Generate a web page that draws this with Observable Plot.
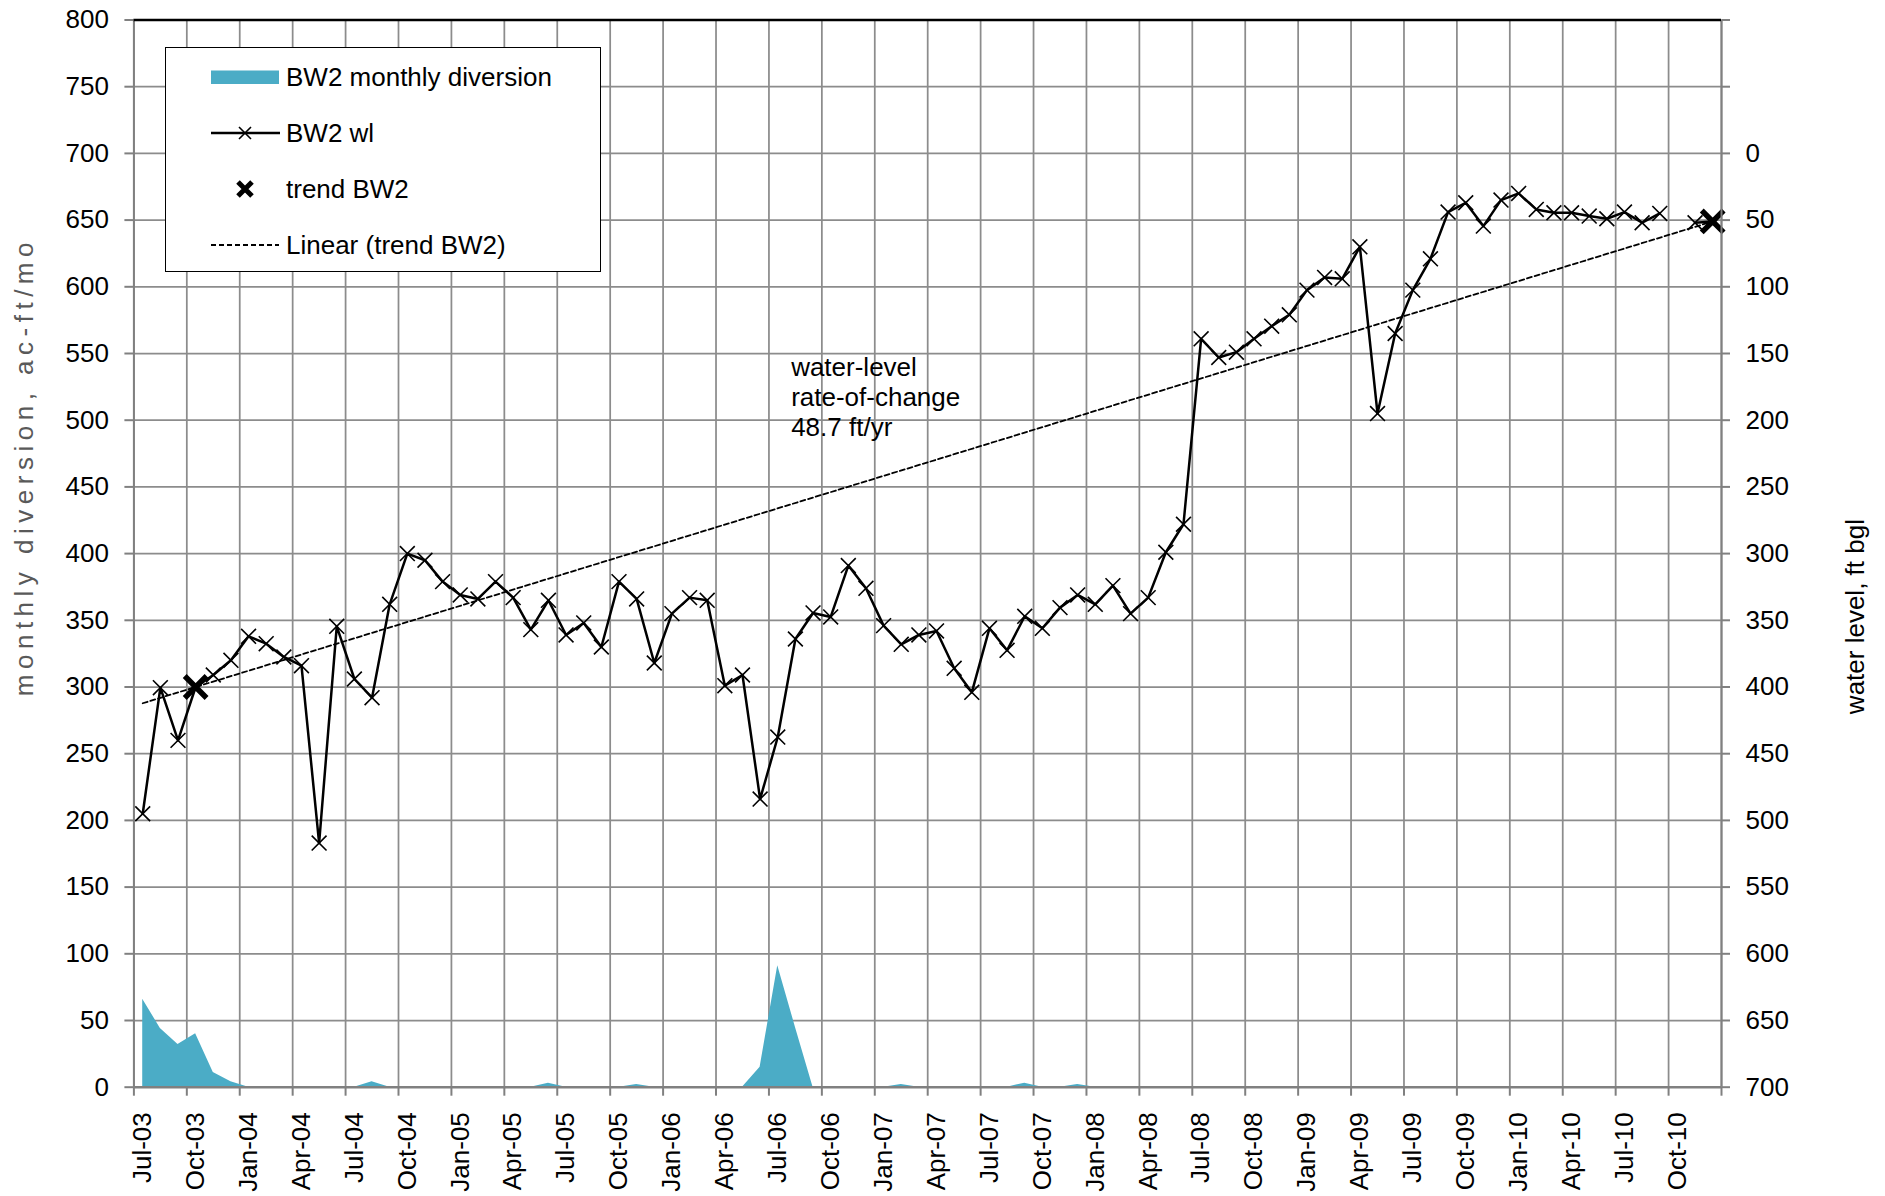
<!DOCTYPE html>
<html>
<head>
<meta charset="utf-8">
<script src="https://cdn.jsdelivr.net/npm/d3@7"></script>
<script src="https://cdn.jsdelivr.net/npm/@observablehq/plot@0.6"></script>
<style>
  body { margin: 0; background: #fff; }
  #wrap { position: relative; width: 1885px; height: 1196px; font-family: "Liberation Sans", Arial, sans-serif; }
  #legend { position: absolute; left: 165px; top: 47px; width: 434px; height: 223px; border: 1.5px solid #000; background: #fff; }
  .row { position: absolute; left: 0; height: 30px; width: 430px; font-size: 26px; line-height: 30px; color: #000; }
  .row svg { position: absolute; left: 45px; top: 0; }
  .row span { position: absolute; left: 120px; top: 0; white-space: nowrap; }
</style>
</head>
<body>
<div id="wrap"></div>
<script>
// ---------- data ----------
const firstMonth = new Date(Date.UTC(2003, 6, 1));   // Jul-03
const endMonth = new Date(Date.UTC(2011, 0, 1));     // Jan-11 (axis end)
const xTickLabels = ["Jul-03","Oct-03","Jan-04","Apr-04","Jul-04","Oct-04","Jan-05","Apr-05","Jul-05","Oct-05",
  "Jan-06","Apr-06","Jul-06","Oct-06","Jan-07","Apr-07","Jul-07","Oct-07","Jan-08","Apr-08",
  "Jul-08","Oct-08","Jan-09","Apr-09","Jul-09","Oct-09","Jan-10","Apr-10","Jul-10","Oct-10"];
const leftTicks = [0,50,100,150,200,250,300,350,400,450,500,550,600,650,700,750,800];

// BW2 water level, ft below ground level (right axis), monthly from Jul-03
const wlFtBgl = [
  495, 400.5, 440, 400, 391, 380,            // Jul-03 .. Dec-03
  362, 367.5, 377.5, 384, 517, 354.5, 394, 408, 338, 300, 305, 321,   // 2004
  331, 334, 321, 333, 357, 335, 361, 352, 370, 321, 334, 382,         // 2005
  345, 333, 335, 399, 391, 484, 437.5, 364, 344.5, 347.5, 309, 326,   // 2006
  354, 368, 361, 358, 386, 404, 356, 372.5, 347, 356, 340.5, 331,     // 2007
  338, 324, 345, 333, 299, 278, 139, 153, 149, 139, 129.5, 121,       // 2008
  102.5, 93, 94, 70, 195, 135, 102.5, 79, 44, 37, 54.5, 35,           // 2009
  30, 42, 44.5, 44.5, 47, 49, 44, 52, 45, null, 52, 51                // 2010
];
// BW2 monthly diversion, ac-ft/mo (left axis), monthly from Jul-03
const diversion = [
  66, 44, 32, 40, 11, 4,
  0, 0, 0, 0, 0, 0, 0, 4, 0, 0, 0, 0,
  0, 0, 0, 0, 0, 3, 0, 0, 0, 0, 2, 0,
  0, 0, 0, 0, 0, 15, 91, 45, 0, 0, 0, 0,
  0, 2, 0, 0, 0, 0, 0, 0, 3, 0, 0, 2,
  0, 0, 0, 0, 0, 0, 0, 0, 0, 0, 0, 0,
  0, 0, 0, 0, 0, 0, 0, 0, 0, 0, 0, 0,
  0, 0, 0, 0, 0, 0, 0, 0, 0, 0, 0, 0
];
// trend BW2 points (month, ft bgl)
const trendMonths = ["2003-10", "2010-12"];
const trendFtBgl = [400, 51];
const annotationText = "water-level\nrate-of-change\n48.7 ft/yr";
const annotationAt = {month: "2006-08", day: 8, value: 518};
const leftTitle = "monthly diversion, ac-ft/mo";
const rightTitle = "water level, ft bgl";

// ---------- derived ----------
const months = d3.utcMonth.range(firstMonth, endMonth);          // 90 months
const nMonths = months.length;
const monthIdx = s => { const [y, m] = s.split("-").map(Number); return (y - 2003) * 12 + (m - 7); };
const wlRows = months.map((m, i) => ({i, v: wlFtBgl[i]}));
const divRows = months.map((m, i) => ({i, v: diversion[i]}));
const trendRows = trendMonths.map((s, k) => ({i: monthIdx(s), v: trendFtBgl[k]}));
// Linear trend (least squares through trend points) in left-axis units, drawn from first wl month to last trend month
const tx = trendRows.map(d => d.i + 0.5), ty = trendRows.map(d => 700 - d.v);
const mx = d3.mean(tx), my = d3.mean(ty);
const slope = d3.sum(tx, (x, k) => (x - mx) * (ty[k] - my)) / d3.sum(tx, x => (x - mx) ** 2);
const trendFit = [0.5, d3.max(tx)].map(x => ({x, y: my + slope * (x - mx)}));
const gridIdx = d3.range(0, nMonths + 1, 3);
const labelIdx = xTickLabels.map((l, k) => k * 3 + 0.5);

const gridColor = "#8c8c8c", axisColor = "#808080";
const X = d => d.i + 0.5;
const Ywl = d => d.v == null ? NaN : 700 - d.v;

const chart = Plot.plot({
  width: 1885, height: 1196,
  marginTop: 19.5, marginBottom: 109.3, marginLeft: 133.4, marginRight: 164,
  x: {type: "linear", domain: [0, nMonths], axis: null},
  y: {domain: [0, 800], axis: null},
  style: {fontFamily: "'Liberation Sans', Arial, sans-serif", fontSize: "26px", color: "black", background: "white", overflow: "visible"},
  marks: [
    Plot.ruleY(leftTicks, {stroke: gridColor, strokeWidth: 1.75}),
    Plot.ruleX(gridIdx, {stroke: gridColor, strokeWidth: 1.75}),
    Plot.areaY(divRows, {x: X, y: "v", fill: "#4bacc6"}),
    Plot.line(trendFit, {x: "x", y: "y", stroke: "black", strokeWidth: 1.8, strokeDasharray: "5,3"}),
    Plot.line(wlRows, {x: X, y: Ywl, stroke: "black", strokeWidth: 2.5}),
    Plot.dot(wlRows.filter(d => d.v != null), {x: X, y: Ywl, symbol: "times", r: 6.8, stroke: "black", strokeWidth: 1.6}),
    Plot.dot(trendRows, {x: X, y: Ywl, symbol: "times", r: 10, stroke: "black", strokeWidth: 5.5}),
    Plot.ruleX([0], {stroke: axisColor, strokeWidth: 2}),
    Plot.ruleX([nMonths], {stroke: axisColor, strokeWidth: 2}),
    Plot.ruleY([0], {stroke: axisColor, strokeWidth: 2.5}),
    Plot.ruleY([800], {stroke: "black", strokeWidth: 2.5}),
    Plot.axisY({anchor: "left", ticks: leftTicks, tickSize: 9, tickPadding: 16, stroke: axisColor, strokeWidth: 2, fill: "black", fontSize: 26, label: null}),
    Plot.axisY({anchor: "right", ticks: leftTicks, tickSize: 8, tickPadding: 16, stroke: axisColor, strokeWidth: 2, fill: "black", fontSize: 26, label: null,
      tickFormat: d => d <= 700 ? String(700 - d) : ""}),
    Plot.axisX({anchor: "bottom", ticks: gridIdx, tickSize: 9, stroke: axisColor, strokeWidth: 2, tickFormat: () => "", label: null}),
    Plot.axisX({anchor: "bottom", ticks: labelIdx, tickSize: 0, tickPadding: 25, tickRotate: -90, fill: "black", fontSize: 26, label: null,
      tickFormat: d => xTickLabels[Math.floor(d / 3)]}),
    Plot.text([annotationText], {x: monthIdx(annotationAt.month) + annotationAt.day / 31, y: annotationAt.value,
      textAnchor: "start", lineAnchor: "middle", lineHeight: 1.154, fontSize: 26, fill: "black"}),
    Plot.text([leftTitle], {frameAnchor: "left", dx: -109, dy: -87, rotate: -90, textAnchor: "middle", lineAnchor: "middle", fontSize: 26, fill: "#595959"}),
    Plot.text([rightTitle], {frameAnchor: "right", dx: 134, dy: 63, rotate: -90, textAnchor: "middle", lineAnchor: "middle", fontSize: 26, fill: "black"})
  ]
});
// the left axis title is rendered with wide character spacing in the original
d3.select(chart).selectAll("text").filter(function() { return this.textContent === leftTitle; })
  .style("letter-spacing", "5.5px");

const wrap = document.getElementById("wrap");
wrap.appendChild(chart);

// legend (inside plot area, top-left)
const legend = document.createElement("div");
legend.id = "legend";
const items = [
  {label: "BW2 monthly diversion", icon: `<rect x="0" y="8.5" width="68" height="13.5" fill="#4bacc6"/>`},
  {label: "BW2 wl", icon: `<line x1="0" y1="15" x2="69" y2="15" stroke="#000" stroke-width="2.5"/><path d="M28 9 L40 21 M28 21 L40 9" stroke="#000" stroke-width="1.6"/>`},
  {label: "trend BW2", icon: `<path d="M27 8 L41 22 M27 22 L41 8" stroke="#000" stroke-width="5"/>`},
  {label: "Linear (trend BW2)", icon: `<line x1="0" y1="15" x2="68" y2="15" stroke="#000" stroke-width="1.8" stroke-dasharray="5,3"/>`}
];
items.forEach((it, k) => {
  const row = document.createElement("div");
  row.className = "row";
  row.style.top = (14 + k * 56) + "px";
  row.innerHTML = `<svg width="70" height="30">${it.icon}</svg><span>${it.label}</span>`;
  legend.appendChild(row);
});
wrap.appendChild(legend);
</script>
</body>
</html>
